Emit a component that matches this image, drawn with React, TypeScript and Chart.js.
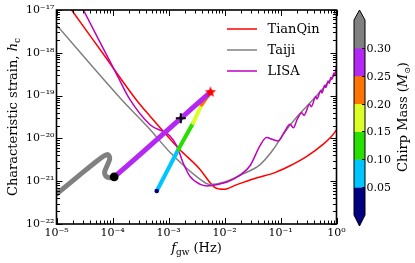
import React, { useEffect, useRef } from "react";
import { Chart, registerables } from "chart.js";

Chart.register(...registerables);

// ---------- data (log10 values) ----------
const X_DECADES = [-5, -4, -3, -2, -1, 0];
const Y_DECADES = [-22, -21, -20, -19, -18, -17];

// TianQin sensitivity curve: log10 f [Hz], log10 h_c
const tianqinLogF = [-4.8, -4.73, -4.18, -3.58, -3.33, -2.8, -2.44, -2.26, -2.17, -2.02, -1.78, -1.42, -1.1, -0.83, -0.53, -0.24, -0.1, 0.0];
const tianqinLogH = [-16.87, -17.0, -18.0, -19.09, -19.48, -20.26, -20.72, -21.03, -21.15, -21.19, -21.08, -20.92, -20.8, -20.64, -20.42, -20.14, -19.97, -19.8];

// Taiji sensitivity curve
const taijiLogF = [-5.0, -3.84, -3.33, -2.97, -2.44, -2.26, -2.0, -1.72, -1.37, -1.13, -0.95, -0.71, -0.41, 0.0];
const taijiLogH = [-17.35, -19.09, -19.79, -20.33, -20.95, -21.08, -21.02, -20.86, -20.62, -20.26, -19.9, -19.5, -19.08, -18.47];

// LISA sensitivity curve
const lisaLogF = [-4.6, -4.52, -3.9, -3.69, -3.33, -2.97, -2.85, -2.74, -2.62, -2.44, -2.32, -2.1, -1.84, -1.545, -1.37, -1.25, -1.15, -1.04, -0.93, -0.83, -0.77, -0.7, -0.62, -0.58, -0.48, -0.45, -0.37, -0.35, -0.28, -0.26, -0.21, -0.19, -0.15, -0.13, -0.1, -0.085, -0.046, -0.035, 0.0];
const lisaLogH = [-16.8, -17.0, -18.57, -19.09, -19.68, -19.95, -20.18, -20.57, -20.88, -21.07, -21.11, -21.07, -20.95, -20.64, -20.18, -19.98, -20.02, -20.06, -19.85, -19.67, -19.75, -19.55, -19.4, -19.46, -19.2, -19.26, -19.02, -19.08, -18.88, -18.94, -18.76, -18.81, -18.66, -18.71, -18.57, -18.62, -18.47, -18.52, -18.32];

// Binary track 1 (chirp mass per point, M_sun)
const track1LogF = [-5.0, -4.6, -4.3, -4.15, -4.08, -4.05, -4.09, -4.14, -4.12, -4.05, -3.97, -2.78, -2.25];
const track1LogH = [-21.3, -20.87, -20.55, -20.41, -20.38, -20.47, -20.62, -20.78, -20.88, -20.92, -20.9, -19.53, -18.92];
const track1Mass = [0.34, 0.34, 0.33, 0.33, 0.32, 0.32, 0.31, 0.31, 0.31, 0.31, 0.28, 0.27, 0.27];

// Binary track 2
const track2LogF = [-3.21, -2.825, -2.56, -2.41, -2.25];
const track2LogH = [-21.23, -20.26, -19.64, -19.21, -18.92];
const track2Mass = [0.07, 0.12, 0.17, 0.22, 0.22];

// Markers
const startDot = { lf: -3.97, lh: -20.9 };
const plusMark = { lf: -2.78, lh: -19.53 };
const starMark = { lf: -2.25, lh: -18.92 };
const navyDot = { lf: -3.21, lh: -21.23 };

// Colour bar
const CB_BOUNDS = [0, 0.05, 0.1, 0.15, 0.2, 0.25, 0.3, 0.35];
const CB_COLORS = ["#000080", "#00c6ff", "#28e000", "#dcff28", "#ff7300", "#b428f5", "#808080"];
const CB_TICKS = [0.05, 0.1, 0.15, 0.2, 0.25, 0.3];

const LEGEND_LABELS = ["TianQin", "Taiji", "LISA"];
const LEGEND_COLORS = ["#ff0000", "#808080", "#bf00bf"];

// ---------- helpers ----------
const SERIF = '"DejaVu Serif", serif';

const pts = (lf: number[], lh: number[]) => lf.map((v, i) => ({ x: 10 ** v, y: 10 ** lh[i] }));

function massColor(m: number): string {
  for (let i = 0; i < CB_COLORS.length; i++) {
    if (m < CB_BOUNDS[i + 1]) return CB_COLORS[i];
  }
  return CB_COLORS[CB_COLORS.length - 1];
}

function sup(n: number): string {
  const map: Record<string, string> = {
    "-": "\u207B", "0": "\u2070", "1": "\u00B9", "2": "\u00B2", "3": "\u00B3", "4": "\u2074",
    "5": "\u2075", "6": "\u2076", "7": "\u2077", "8": "\u2078", "9": "\u2079",
  };
  return String(n).split("").map((c) => map[c]).join("");
}

function makeStar(r: number, color: string): HTMLCanvasElement {
  const c = document.createElement("canvas");
  const s = Math.ceil(r * 2 + 2);
  c.width = s;
  c.height = s;
  const g = c.getContext("2d")!;
  g.beginPath();
  for (let i = 0; i < 10; i++) {
    const a = -Math.PI / 2 + (i * Math.PI) / 5;
    const rr = i % 2 === 0 ? r : r * 0.42;
    g.lineTo(s / 2 + rr * Math.cos(a), s / 2 + rr * Math.sin(a));
  }
  g.closePath();
  g.fillStyle = color;
  g.fill();
  return c;
}

type Piece = { t: string; font: string; dy?: number };
function drawPieces(ctx: CanvasRenderingContext2D, pieces: Piece[], x: number, y: number, align: "center" | "left") {
  let total = 0;
  const ws = pieces.map((p) => {
    ctx.font = p.font;
    const w = ctx.measureText(p.t).width;
    total += w;
    return w;
  });
  let cx = align === "center" ? x - total / 2 : x;
  pieces.forEach((p, i) => {
    ctx.font = p.font;
    ctx.fillText(p.t, cx, y + (p.dy || 0));
    cx += ws[i];
  });
}

const decorPlugin = {
  id: "decor",
  afterDatasetsDraw(chart: any) {
    const ctx: CanvasRenderingContext2D = chart.ctx;
    const { left, right, top, bottom } = chart.chartArea;
    const xs = chart.scales.x;
    const ys = chart.scales.y;
    ctx.save();
    ctx.strokeStyle = "#000";
    ctx.lineWidth = 1;
    ctx.beginPath();
    for (let e = X_DECADES[0]; e <= X_DECADES[X_DECADES.length - 1]; e++) {
      for (let m = 1; m <= 9; m++) {
        const v = m * 10 ** e;
        if (v > 10 ** X_DECADES[X_DECADES.length - 1] * 1.0001) break;
        const px = Math.round(xs.getPixelForValue(v)) + 0.5;
        const L = m === 1 ? 6 : 3.5;
        ctx.moveTo(px, bottom);
        ctx.lineTo(px, bottom - L);
        ctx.moveTo(px, top);
        ctx.lineTo(px, top + L);
      }
    }
    for (let e = Y_DECADES[0]; e <= Y_DECADES[Y_DECADES.length - 1]; e++) {
      for (let m = 1; m <= 9; m++) {
        const v = m * 10 ** e;
        if (v > 10 ** Y_DECADES[Y_DECADES.length - 1] * 1.0001) break;
        const py = Math.round(ys.getPixelForValue(v)) + 0.5;
        const L = m === 1 ? 6 : 3.5;
        ctx.moveTo(left, py);
        ctx.lineTo(left + L, py);
        ctx.moveTo(right, py);
        ctx.lineTo(right - L, py);
      }
    }
    ctx.stroke();
    ctx.lineWidth = 1.6;
    ctx.strokeRect(left, top, right - left, bottom - top);
    ctx.restore();
  },
  afterDraw(chart: any) {
    const ctx: CanvasRenderingContext2D = chart.ctx;
    const { left, right, top, bottom } = chart.chartArea;
    ctx.save();
    ctx.fillStyle = "#000";
    ctx.textBaseline = "alphabetic";

    // x title
    drawPieces(
      ctx,
      [
        { t: "f", font: `italic 13px ${SERIF}` },
        { t: "gw", font: `9px ${SERIF}`, dy: 3 },
        { t: " (Hz)", font: `13px ${SERIF}` },
      ],
      (left + right) / 2,
      252,
      "center"
    );

    // y title
    ctx.save();
    ctx.translate(12.5, (top + bottom) / 2);
    ctx.rotate(-Math.PI / 2);
    drawPieces(
      ctx,
      [
        { t: "Characteristic strain, ", font: `13px ${SERIF}` },
        { t: "h", font: `italic 13px ${SERIF}` },
        { t: "c", font: `9px ${SERIF}`, dy: 3 },
      ],
      0,
      4.5,
      "center"
    );
    ctx.restore();

    // legend
    const legX0 = 227, legX1 = 257, legTx = 267.5;
    const legY = [29, 50, 71];
    LEGEND_LABELS.forEach((lab, i) => {
      ctx.strokeStyle = LEGEND_COLORS[i];
      ctx.lineWidth = 1.5;
      ctx.beginPath();
      ctx.moveTo(legX0, legY[i]);
      ctx.lineTo(legX1, legY[i]);
      ctx.stroke();
      ctx.font = `13px ${SERIF}`;
      ctx.textBaseline = "middle";
      ctx.fillText(lab, legTx, legY[i] + 1);
    });

    // colour bar
    const cbX0 = 354, cbX1 = 365;
    const cbTop = 20, cbBot = 215;
    const vmin = CB_BOUNDS[0], vmax = CB_BOUNDS[CB_BOUNDS.length - 1];
    const cy = (v: number) => cbBot - ((v - vmin) / (vmax - vmin)) * (cbBot - cbTop);
    for (let i = 0; i < CB_COLORS.length; i++) {
      const y0 = cy(CB_BOUNDS[i + 1]);
      const y1 = cy(CB_BOUNDS[i]);
      ctx.fillStyle = CB_COLORS[i];
      ctx.fillRect(cbX0, y0, cbX1 - cbX0, y1 - y0 + 0.5);
    }
    const cmid = (cbX0 + cbX1) / 2;
    ctx.fillStyle = CB_COLORS[CB_COLORS.length - 1];
    ctx.beginPath();
    ctx.moveTo(cbX0, cbTop);
    ctx.lineTo(cmid, cbTop - 10);
    ctx.lineTo(cbX1, cbTop);
    ctx.closePath();
    ctx.fill();
    ctx.fillStyle = CB_COLORS[0];
    ctx.beginPath();
    ctx.moveTo(cbX0, cbBot);
    ctx.lineTo(cmid, cbBot + 11);
    ctx.lineTo(cbX1, cbBot);
    ctx.closePath();
    ctx.fill();
    ctx.strokeStyle = "#000";
    ctx.lineWidth = 1;
    ctx.beginPath();
    ctx.moveTo(cbX0, cbTop);
    ctx.lineTo(cmid, cbTop - 10);
    ctx.lineTo(cbX1, cbTop);
    ctx.lineTo(cbX1, cbBot);
    ctx.lineTo(cmid, cbBot + 11);
    ctx.lineTo(cbX0, cbBot);
    ctx.closePath();
    ctx.stroke();
    ctx.fillStyle = "#000";
    ctx.font = `11px ${SERIF}`;
    ctx.textBaseline = "middle";
    ctx.textAlign = "left";
    CB_TICKS.forEach((t) => {
      const y = Math.round(cy(t)) + 0.5;
      ctx.beginPath();
      ctx.moveTo(cbX1 - 3, y);
      ctx.lineTo(cbX1, y);
      ctx.stroke();
      ctx.fillText(t.toFixed(2), cbX1 + 1.5, y + 0.5);
    });
    ctx.save();
    ctx.translate(402, (top + bottom) / 2);
    ctx.rotate(-Math.PI / 2);
    ctx.textBaseline = "alphabetic";
    drawPieces(
      ctx,
      [
        { t: "Chirp Mass (", font: `13px ${SERIF}` },
        { t: "M", font: `italic 13px ${SERIF}` },
        { t: "\u2299", font: `8px ${SERIF}`, dy: 3 },
        { t: ")", font: `13px ${SERIF}` },
      ],
      0,
      4.5,
      "center"
    );
    ctx.restore();
    ctx.restore();
  },
};

export default function App() {
  const ref = useRef<HTMLCanvasElement>(null);

  useEffect(() => {
    document.body.style.margin = "0";
    const starImg = makeStar(6, "#ff0000");
    const trackSeg = (mass: number[]) => ({
      borderColor: (c: any) => massColor(mass[c.p0DataIndex]),
    });
    const mk = (p: { lf: number; lh: number }) => [{ x: 10 ** p.lf, y: 10 ** p.lh }];
    const curve = { showLine: true, borderWidth: 1.5, pointRadius: 0, cubicInterpolationMode: "monotone" };

    const chart = new Chart(ref.current!, {
      type: "scatter",
      data: {
        datasets: [
          { label: "star", data: mk(starMark), pointStyle: starImg as any, pointRadius: 6, showLine: false, order: 0 },
          { label: "plus", data: mk(plusMark), pointStyle: "cross", pointRadius: 5, pointBorderWidth: 2, pointBorderColor: "#000", showLine: false, order: 0 },
          { label: "dot", data: mk(startDot), pointStyle: "circle", pointRadius: 4.4, pointBackgroundColor: "#000", pointBorderWidth: 0, showLine: false, order: 0 },
          { label: "navy", data: mk(navyDot), pointStyle: "circle", pointRadius: 2.3, pointBackgroundColor: CB_COLORS[0], pointBorderWidth: 0, showLine: false, order: 0 },
          { label: "track1", data: pts(track1LogF, track1LogH), showLine: true, borderWidth: 5, pointRadius: 0, tension: 0.3, borderCapStyle: "round", borderJoinStyle: "round", borderColor: CB_COLORS[5], segment: trackSeg(track1Mass), order: 2 },
          { label: "track2", data: pts(track2LogF, track2LogH), showLine: true, borderWidth: 4, pointRadius: 0, borderCapStyle: "round", borderJoinStyle: "round", borderColor: CB_COLORS[1], segment: trackSeg(track2Mass), order: 2 },
          { label: "LISA", data: pts(lisaLogF, lisaLogH), ...curve, borderColor: LEGEND_COLORS[2], order: 4 },
          { label: "Taiji", data: pts(taijiLogF, taijiLogH), ...curve, borderColor: LEGEND_COLORS[1], order: 5 },
          { label: "TianQin", data: pts(tianqinLogF, tianqinLogH), ...curve, borderColor: LEGEND_COLORS[0], order: 6 },
        ] as any,
      },
      options: {
        responsive: false,
        devicePixelRatio: 1,
        animation: false,
        events: [],
        layout: { padding: { top: 10, right: 78.5, left: 0, bottom: 0 } },
        plugins: { legend: { display: false }, tooltip: { enabled: false } },
        scales: {
          x: {
            type: "logarithmic",
            position: "bottom",
            min: 10 ** X_DECADES[0],
            max: 10 ** X_DECADES[X_DECADES.length - 1],
            afterBuildTicks: (s: any) => {
              s.ticks = X_DECADES.map((e) => ({ value: 10 ** e }));
            },
            afterFit: (s: any) => {
              s.height = 39;
            },
            grid: { display: false, drawTicks: false },
            border: { display: false },
            ticks: {
              callback: (v: any) => "10" + sup(Math.round(Math.log10(Number(v)))),
              font: { family: SERIF, size: 11 },
              color: "#000",
              maxRotation: 0,
              autoSkip: false,
              padding: 3,
            },
          },
          y: {
            type: "logarithmic",
            position: "left",
            min: 10 ** Y_DECADES[0],
            max: 10 ** Y_DECADES[Y_DECADES.length - 1],
            afterBuildTicks: (s: any) => {
              s.ticks = Y_DECADES.map((e) => ({ value: 10 ** e }));
            },
            afterFit: (s: any) => {
              s.width = 56.5;
            },
            grid: { display: false, drawTicks: false },
            border: { display: false },
            ticks: {
              callback: (v: any) => "10" + sup(Math.round(Math.log10(Number(v)))),
              font: { family: SERIF, size: 11 },
              color: "#000",
              autoSkip: false,
              padding: 2,
            },
          },
        },
      } as any,
      plugins: [decorPlugin],
    });
    return () => chart.destroy();
  }, []);

  return (
    <div style={{ width: 415, height: 263 }}>
      <canvas ref={ref} width={415} height={263} style={{ display: "block", width: 415, height: 263 }} />
    </div>
  );
}
